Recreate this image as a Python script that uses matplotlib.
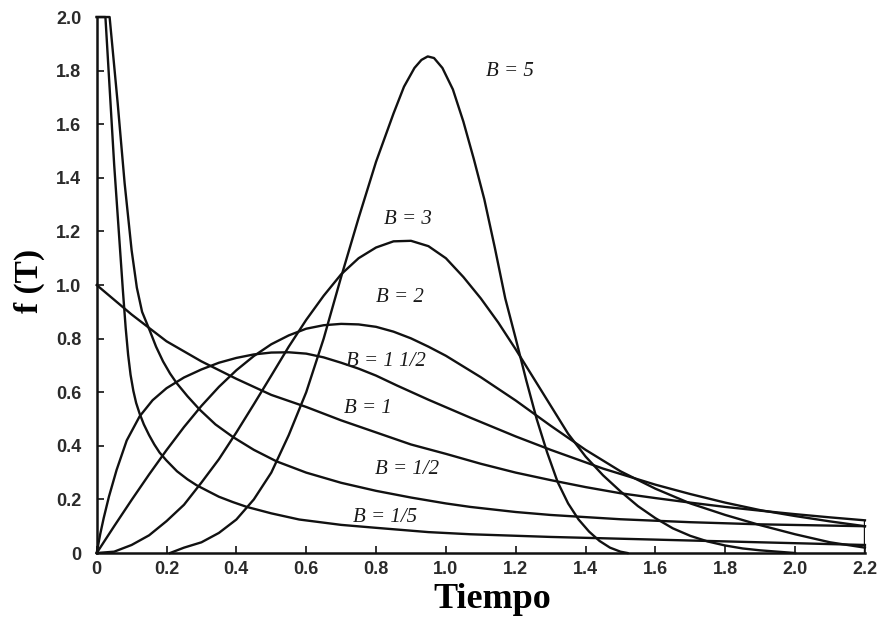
import matplotlib.pyplot as plt

# datos (tiempo, f(T)) para cada valor de B
t_b15 = [0.0, 0.025, 0.05, 0.075, 0.083, 0.09, 0.097, 0.105, 0.113, 0.123, 0.135, 0.15, 0.165,
         0.18, 0.2, 0.23, 0.26, 0.286, 0.32, 0.35, 0.39, 0.43, 0.5, 0.58, 0.7, 0.8, 0.95, 1.07,
         1.3, 1.6, 1.9, 2.2]
f_b15 = [2.0, 2.0, 1.45, 0.98, 0.84, 0.74, 0.665, 0.605, 0.56, 0.52, 0.48, 0.44, 0.405,
         0.375, 0.345, 0.305, 0.275, 0.253, 0.23, 0.21, 0.19, 0.172, 0.148, 0.125, 0.105, 0.094,
         0.078, 0.07, 0.06, 0.05, 0.04, 0.03]

t_b12 = [0.0, 0.037, 0.06, 0.08, 0.10, 0.115, 0.13, 0.152, 0.17, 0.19, 0.21, 0.229, 0.26, 0.295,
         0.34, 0.39, 0.45, 0.515, 0.6, 0.7, 0.8, 0.9, 1.0, 1.07, 1.2, 1.3, 1.5, 1.7, 1.9, 2.2]
f_b12 = [2.0, 2.0, 1.68, 1.38, 1.13, 0.99, 0.90, 0.83, 0.77, 0.715, 0.67, 0.634, 0.585, 0.535,
         0.48, 0.433, 0.385, 0.342, 0.30, 0.262, 0.232, 0.207, 0.185, 0.172, 0.153, 0.142, 0.126,
         0.115, 0.107, 0.10]

t_b1 = [0.0, 0.1, 0.2, 0.3, 0.4, 0.5, 0.6, 0.7, 0.8, 0.9, 1.0, 1.1, 1.2, 1.3, 1.4, 1.5, 1.6,
        1.7, 1.8, 1.9, 2.0, 2.1, 2.2]
f_b1 = [1.0, 0.89, 0.79, 0.715, 0.65, 0.59, 0.545, 0.495, 0.45, 0.405, 0.37, 0.333, 0.30, 0.272,
        0.246, 0.223, 0.205, 0.188, 0.172, 0.158, 0.145, 0.133, 0.122]

t_b1h = [0.0, 0.01, 0.02, 0.035, 0.057, 0.086, 0.123, 0.16, 0.2, 0.25, 0.3, 0.35, 0.4, 0.45,
         0.5, 0.55, 0.6, 0.65, 0.7, 0.75, 0.8, 0.86, 0.95, 1.07, 1.2, 1.3, 1.45, 1.6, 1.7, 1.8,
         1.9, 2.0, 2.1, 2.2]
f_b1h = [0.0, 0.07, 0.13, 0.21, 0.31, 0.42, 0.51, 0.57, 0.615, 0.655, 0.685, 0.71, 0.728, 0.741,
         0.748, 0.749, 0.744, 0.73, 0.71, 0.688, 0.662, 0.625, 0.572, 0.505, 0.435, 0.385, 0.315,
         0.255, 0.22, 0.188, 0.16, 0.138, 0.118, 0.10]

t_b2 = [0.0, 0.05, 0.1, 0.15, 0.2, 0.25, 0.3, 0.35, 0.4, 0.45, 0.5, 0.55, 0.6, 0.65, 0.7, 0.75,
        0.8, 0.85, 0.9, 0.95, 1.0, 1.1, 1.2, 1.3, 1.4, 1.5, 1.6, 1.7, 1.8, 1.9, 2.0, 2.1, 2.2]
f_b2 = [0.0, 0.10, 0.198, 0.293, 0.384, 0.47, 0.549, 0.62, 0.682, 0.735, 0.779, 0.812, 0.837,
        0.85, 0.855, 0.853, 0.844, 0.826, 0.801, 0.77, 0.736, 0.656, 0.569, 0.475, 0.385, 0.305,
        0.24, 0.185, 0.142, 0.104, 0.07, 0.04, 0.02]

t_b3 = [0.0, 0.05, 0.1, 0.15, 0.2, 0.25, 0.3, 0.35, 0.4, 0.45, 0.5, 0.55, 0.6, 0.65, 0.7, 0.75,
        0.8, 0.85, 0.9, 0.95, 1.0, 1.05, 1.1, 1.15, 1.2, 1.25, 1.3, 1.35, 1.4, 1.45, 1.5, 1.55,
        1.6, 1.65, 1.7, 1.75, 1.8, 1.85, 1.9, 2.0]
f_b3 = [0.0, 0.005, 0.03, 0.066, 0.119, 0.18, 0.263, 0.35, 0.45, 0.555, 0.662, 0.77, 0.87, 0.96,
        1.04, 1.10, 1.14, 1.163, 1.165, 1.145, 1.10, 1.03, 0.95, 0.86, 0.76, 0.655, 0.55, 0.445,
        0.36, 0.29, 0.23, 0.175, 0.13, 0.092, 0.064, 0.043, 0.028, 0.017, 0.01, 0.0]

t_b5 = [0.21, 0.25, 0.3, 0.35, 0.4, 0.45, 0.5, 0.55, 0.6, 0.65, 0.7, 0.75, 0.8, 0.85, 0.88,
        0.91, 0.93, 0.948, 0.966, 0.99, 1.02, 1.05, 1.08, 1.11, 1.14, 1.17, 1.2, 1.23, 1.26, 1.29,
        1.32, 1.35, 1.38, 1.41, 1.44, 1.47, 1.5, 1.52]
f_b5 = [0.0, 0.02, 0.04, 0.075, 0.125, 0.20, 0.30, 0.44, 0.60, 0.80, 1.03, 1.25, 1.46, 1.64, 1.74,
        1.81, 1.84, 1.853, 1.847, 1.81, 1.73, 1.61, 1.47, 1.32, 1.14, 0.95, 0.80, 0.645, 0.50,
        0.375, 0.265, 0.185, 0.125, 0.08, 0.045, 0.02, 0.005, 0.0]

etiquetas = ['B = 5', 'B = 3', 'B = 2', 'B = 1 1/2', 'B = 1', 'B = 1/2', 'B = 1/5']
pos_x = [1.183, 0.891, 0.868, 0.828, 0.776, 0.89, 0.825]
pos_y = [1.795, 1.243, 0.955, 0.713, 0.541, 0.31, 0.134]

x_ticks = [0, 0.2, 0.4, 0.6, 0.8, 1.0, 1.2, 1.4, 1.6, 1.8, 2.0, 2.2]
x_labels = ['0', '0.2', '0.4', '0.6', '0.8', '1.0', '1.2', '1.4', '1.6', '1.8', '2.0', '2.2']
y_ticks = [0, 0.2, 0.4, 0.6, 0.8, 1.0, 1.2, 1.4, 1.6, 1.8, 2.0]
y_labels = ['0', '0.2', '0.4', '0.6', '0.8', '1.0', '1.2', '1.4', '1.6', '1.8', '2.0']

fig = plt.figure(figsize=(8.79, 6.17), dpi=100)
ax = fig.add_axes([0.110, 0.1037, 0.874, 0.8687])

# curvas
for t, f in [(t_b15, f_b15), (t_b12, f_b12), (t_b1, f_b1), (t_b1h, f_b1h),
             (t_b2, f_b2), (t_b3, f_b3), (t_b5, f_b5)]:
    ax.plot(t, f, color='#111111', lw=1.7, solid_joinstyle='round', clip_on=False)

# cierre a la derecha
ax.vlines(2.2, 0, 0.125, color='#111111', lw=1.7)

# etiquetas de B
for s, x, y in zip(etiquetas, pos_x, pos_y):
    ax.text(x, y, s, ha='center', va='center', fontsize=15, style='italic',
            family='Liberation Serif', color='#1a1a1a')

ax.set_xlim(0, 2.2)
ax.set_ylim(0, 2.0)
ax.set_xticks(x_ticks)
ax.set_xticklabels(x_labels)
ax.set_yticks(y_ticks)
ax.set_yticklabels(y_labels)

for lab in ax.get_xticklabels() + ax.get_yticklabels():
    lab.set_family('Liberation Sans')
    lab.set_fontweight('bold')
    lab.set_fontsize(13)
    lab.set_color('#2a2a2a')

ax.tick_params(axis='both', direction='in', length=5, width=1.2, color='#111111')
ax.tick_params(axis='y', pad=11)
ax.tick_params(axis='x', pad=6)

ax.spines['top'].set_visible(False)
ax.spines['right'].set_visible(False)
ax.spines['left'].set_linewidth(1.8)
ax.spines['bottom'].set_linewidth(1.8)
ax.spines['left'].set_color('#111111')
ax.spines['bottom'].set_color('#111111')

# titulos de ejes
fig.text(492 / 879, 1 - 608 / 617, 'Tiempo', ha='center', va='baseline', fontsize=26,
         fontweight='bold', family='Liberation Serif')
fig.text(29 / 879, 1 - 281 / 617, 'f (T)', ha='center', va='center', rotation=90, fontsize=24,
         fontweight='bold', family='Liberation Serif')

plt.savefig('out.png', dpi=100)
